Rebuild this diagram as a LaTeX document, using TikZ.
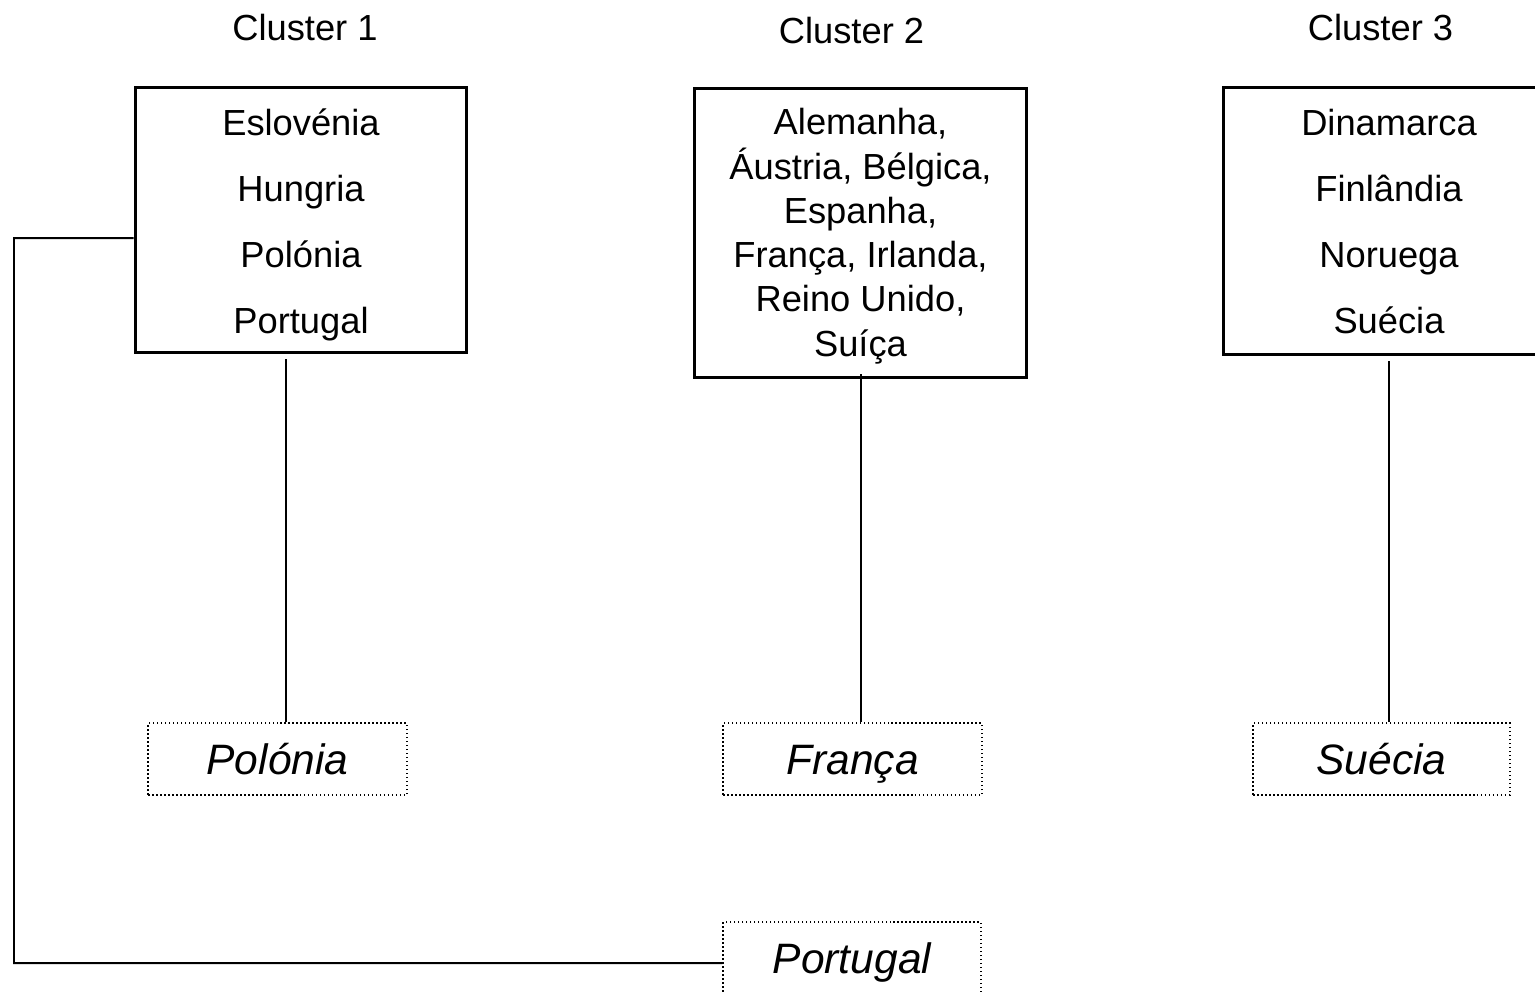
\documentclass[tikz,border=0pt]{standalone}
\usepackage{fontspec}
\setmainfont{Liberation Sans}
\begin{document}
\begin{tikzpicture}[x=0.02cm,y=-0.02cm,
  cluster/.style={font=\fontsize{20.66}{24}\selectfont, inner sep=0},
  grp/.style={draw, line width=0.06cm, minimum width=6.64cm, align=center, inner sep=0},
  wide/.style={font=\fontsize{20.66}{37.6}\selectfont},
  tight/.style={font=\fontsize{20.66}{25.2}\selectfont},
  rep/.style={draw, line width=0.03cm, dash pattern=on 0.03cm off 0.05cm,
    font=\fontsize{24.2}{28}\selectfont\itshape, minimum width=5.18cm,
    minimum height=1.44cm, inner sep=0, text height=0.68cm, text depth=0.06cm},
  link/.style={line width=0.04cm}]
\useasboundingbox (0,0) rectangle (1535,991);
% cluster titles
\node[cluster, anchor=base] (t1) at (305,40) {Cluster 1};
\node[cluster, anchor=base] (t2) at (851.5,43) {Cluster 2};
\node[cluster, anchor=base] (t3) at (1380.5,40) {Cluster 3};
% cluster boxes
\node[grp, wide, minimum height=5.32cm] (c1) at (301,220)
  {\rule{0pt}{21pt}Eslovénia\\Hungria\\Polónia\\Portugal};
\node[grp, tight, minimum width=6.66cm, minimum height=5.8cm] (c2) at (860.5,233)
  {\rule{0pt}{18.5pt}Alemanha,\\Áustria, Bélgica,\\Espanha,\\França, Irlanda,\\Reino Unido,\\Suíça};
\node[grp, wide, minimum height=5.36cm] (c3) at (1389,221)
  {\rule{0pt}{16pt}Dinamarca\\Finlândia\\Noruega\\Suécia};
% representative boxes
\node[rep] (r1) at (277.5,759) {Polónia};
\node[rep] (r2) at (852.5,759) {França};
\node[rep, minimum width=5.14cm] (r3) at (1381.5,759) {Suécia};
\node[rep, minimum width=5.16cm] (r4) at (852,958) {Portugal};
% connectors
\coordinate (s1) at ([xshift=-0.3cm,yshift=-0.1cm]c1.south);
\coordinate (s2) at ([yshift=0.1cm]c2.south);
\coordinate (s3) at ([yshift=-0.1cm]c3.south);
\draw[link] (s1) -- (s1 |- r1.north);
\draw[link] (s2) -- (s2 |- r2.north);
\draw[link] (s3) -- (s3 |- r3.north);
\coordinate (w1) at ([yshift=-0.36cm]c1.west);
\coordinate (k) at (14,963);
\coordinate (e4) at ([yshift=-0.1cm]r4.west);
\draw[link] (w1) -- (w1 -| k) -- (k) -- (e4);
\end{tikzpicture}
\end{document}
